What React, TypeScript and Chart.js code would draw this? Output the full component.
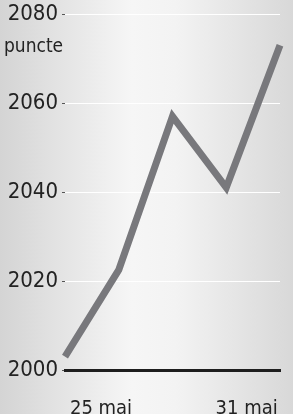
import React, { useEffect, useRef } from "react";
import { Chart, registerables } from "chart.js";

Chart.register(...registerables);

const values = [2003, 2022.5, 2057, 2041, 2073];
const yTicks = [2000, 2020, 2040, 2060, 2080];
const xTickLabels = ["25 mai", "31 mai"];
const xTickValues = [0.67, 3.38];
const unitLabel = "puncte";

const FONT = "'DejaVu Sans Condensed', 'Open Sans', sans-serif";

export default function App() {
  const ref = useRef<HTMLCanvasElement | null>(null);

  useEffect(() => {
    document.body.style.margin = "0";
    const canvas = ref.current;
    if (!canvas) return;
    const chart = new Chart(canvas, {
      type: "line",
      data: {
        datasets: [
          {
            data: values.map((v, i) => ({ x: i, y: v })),
            borderColor: "#78787c",
            borderWidth: 7,
            pointRadius: 0,
            tension: 0,
            borderCapStyle: "butt",
            borderJoinStyle: "miter",
            clip: false as any,
          },
        ],
      },
      options: {
        responsive: false,
        animation: false,
        layout: { padding: { top: 0, right: 13, left: 0, bottom: 0 } },
        plugins: { legend: { display: false }, tooltip: { enabled: false } },
        scales: {
          x: {
            type: "linear",
            min: 0,
            max: values.length - 1,
            afterFit: (s: any) => {
              s.height = 44;
              s.paddingLeft = 0;
              s.paddingRight = 0;
            },
            afterBuildTicks: (s: any) => {
              s.ticks = xTickValues.map((v) => ({ value: v }));
            },
            ticks: {
              autoSkip: false,
              maxRotation: 0,
              padding: 27,
              color: "#222",
              font: { family: FONT, size: 20 },
              callback: (v: any) => {
                const idx = xTickValues.indexOf(Number(v));
                return idx >= 0 ? xTickLabels[idx] : "";
              },
            },
            grid: { display: false, drawTicks: false },
            border: { display: true, color: "#1e1e1e", width: 3 },
          },
          y: {
            min: 2000,
            max: 2080,
            afterFit: (s: any) => {
              s.width = 65;
              s.paddingTop = 14;
              s.paddingBottom = 0;
            },
            afterBuildTicks: (s: any) => {
              s.ticks = yTicks.map((v) => ({ value: v }));
            },
            ticks: {
              padding: 4,
              color: "#222",
              font: { family: FONT, size: 22 },
              callback: (v: any) => String(v),
            },
            grid: {
              color: "#ffffff",
              lineWidth: 1,
              tickLength: 3,
              tickColor: "#555",
            },
            border: { display: false },
          },
        },
      },
    });
    return () => chart.destroy();
  }, []);

  return (
    <div
      style={{
        position: "fixed",
        left: 0,
        top: 0,
        width: 293,
        height: 414,
        background:
          "linear-gradient(to right, #d4d4d4 0%, #f6f6f6 45%, #f3f3f3 60%, #d8d8d8 100%)",
      }}
    >
      <canvas ref={ref} width={293} height={414} style={{ display: "block" }} />
      <div
        style={{
          position: "absolute",
          left: 4,
          top: 34,
          fontFamily: FONT,
          fontSize: 19,
          color: "#222",
          lineHeight: "22px",
        }}
      >
        {unitLabel}
      </div>
    </div>
  );
}
